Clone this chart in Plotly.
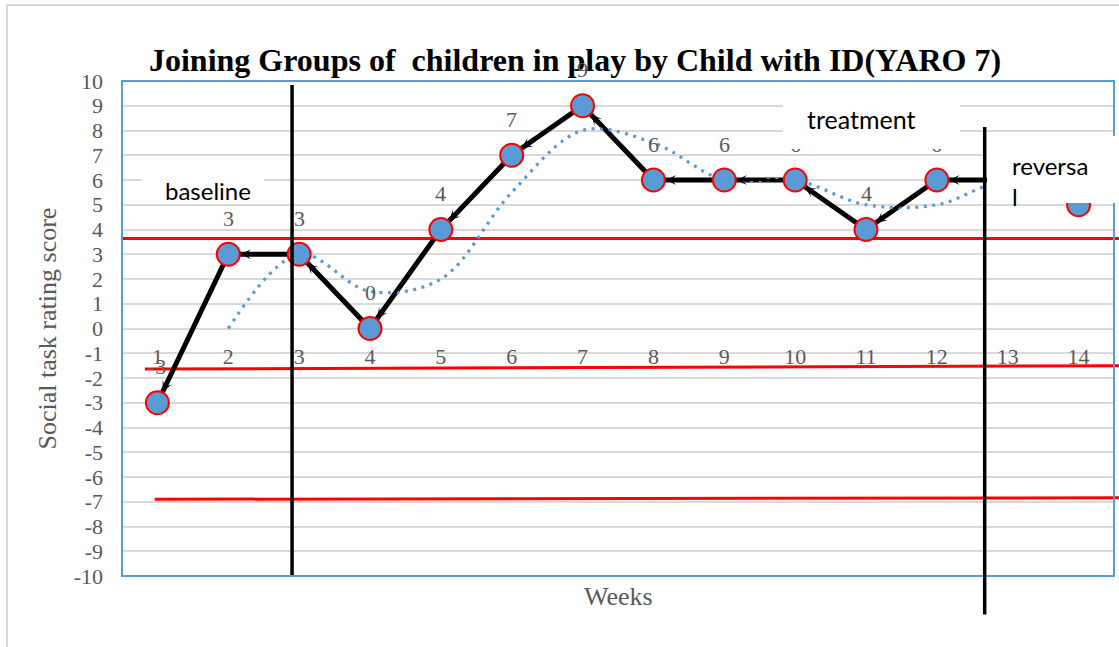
import plotly.graph_objects as go

# ---- data -------------------------------------------------------------
weeks = list(range(1, 15))
scores = [-3, 3, 3, 0, 4, 7, 9, 6, 6, 6, 4, 6, 6, 5]
# 2-week moving average (dotted trend)
moving_avg = [None, 0, 3, 1.5, 2, 5.5, 8, 7.5, 6, 6, 5, 5, 6, 5.5]
y_ticks = list(range(-10, 11))
y_tick_text = [str(v) for v in y_ticks]

# phase boundaries (in week units)
phase_bounds = [2.9, 12.675]
# criterion lines: (left score, right score)
criterion_lines = [(3.64, 3.64), (-1.64, -1.50), (-6.90, -6.84)]
criterion_starts = [0.0, 0.023, 0.033]   # paper x of each line's left end

TITLE = "Joining Groups of  children in play by Child with ID(YARO 7)"
SERIF = "Times New Roman, Liberation Serif, serif"
SANS = "Lato, Calibri, Carlito, sans-serif"
GREY = "#595959"
BLUE = "#5B9BD5"

W, H = 1119, 647
ML, MR, MT, MB = 122, 5, 81, 71

fig = go.Figure()

# black connecting line
fig.add_trace(go.Scatter(
    x=weeks, y=scores, mode="lines",
    line=dict(color="black", width=5),
    hoverinfo="skip", showlegend=False,
))

# dotted moving-average trend
fig.add_trace(go.Scatter(
    x=weeks, y=moving_avg, mode="lines",
    line=dict(color=BLUE, width=3.2, dash="3px,5.5px", shape="spline", smoothing=1),
    connectgaps=False, hoverinfo="skip", showlegend=False,
))

# markers
fig.add_trace(go.Scatter(
    x=weeks, y=scores, mode="markers",
    marker=dict(size=23, color=BLUE, line=dict(color="red", width=2)),
    cliponaxis=False, showlegend=False,
))

shapes = []
# outer chart border
shapes.append(dict(type="rect", xref="paper", yref="paper",
                   x0=-0.1159, x1=1.03, y0=-0.2, y1=1.1535,
                   line=dict(color="#D9D9D9", width=2), layer="below"))
# criterion lines
for (ya, yb), xs in zip(criterion_lines, criterion_starts):
    shapes.append(dict(type="line", xref="paper", yref="y",
                       x0=xs, x1=1.006, y0=ya, y1=yb,
                       line=dict(color="red", width=3), layer="below"))
# plot-area border
shapes.append(dict(type="rect", xref="paper", yref="paper",
                   x0=0, x1=1, y0=0, y1=1,
                   line=dict(color=BLUE, width=2), layer="above"))
# phase change lines
shapes.append(dict(type="line", xref="x", yref="paper",
                   x0=phase_bounds[0], x1=phase_bounds[0], y0=0.002, y1=0.992,
                   line=dict(color="black", width=3.5), layer="above"))
shapes.append(dict(type="line", xref="x", yref="paper",
                   x0=phase_bounds[1], x1=phase_bounds[1], y0=-0.078, y1=0.907,
                   line=dict(color="black", width=3.5), layer="above"))

annotations = []
# value labels above each point
for w, s in zip(weeks, scores):
    annotations.append(dict(
        x=w, y=s, xref="x", yref="y", text=str(s), showarrow=False,
        yshift=36, xanchor="center", yanchor="middle",
        font=dict(family=SERIF, size=22, color=GREY),
    ))

# arrowheads on each segment, pointing back to the earlier week
for i in range(1, len(weeks)):
    annotations.append(dict(
        x=weeks[i - 1], y=scores[i - 1], ax=weeks[i], ay=scores[i],
        xref="x", yref="y", axref="x", ayref="y", text="",
        showarrow=True, arrowhead=3, arrowsize=0.85, arrowwidth=2,
        arrowcolor="black", standoff=12.5, startstandoff=12.5,
    ))

# white label boxes (x, top y in data units; width, height in px)
boxes = [(0.782, 6.93, 122, 45), (9.828, 9.556, 177, 57), (12.708, 7.778, 140, 67)]
for bx, by, bw, bh in boxes:
    annotations.append(dict(
        x=bx, y=by, xref="x", yref="y", xanchor="left", yanchor="top",
        text=" ", showarrow=False, bgcolor="white", borderwidth=0, borderpad=0,
        width=bw, height=bh,
    ))

# phase labels
phase_labels = [("baseline", 1.079, 5.596, 24), ("treatment", 10.139, 8.48, 25),
                ("reversa<br>l", 13.03, 5.96, 24)]
for txt, tx, ty, fs in phase_labels:
    annotations.append(dict(
        x=tx, y=ty, xref="x", yref="y", xanchor="left", yanchor="middle",
        text=txt, showarrow=False, align="left",
        font=dict(family=SANS, size=fs, color="black"),
    ))

# axis titles
annotations.append(dict(
    x=-0.0746, y=0.5, xref="paper", yref="paper", text="Social task rating score",
    textangle=-90, showarrow=False, xanchor="center", yanchor="middle",
    font=dict(family=SERIF, size=26, color=GREY),
))
annotations.append(dict(
    x=0.5, y=-0.0424, xref="paper", yref="paper", text="Weeks",
    showarrow=False, xanchor="center", yanchor="middle",
    font=dict(family=SERIF, size=26, color=GREY),
))

fig.update_layout(
    width=W, height=H,
    margin=dict(l=ML, r=MR, t=MT, b=MB, autoexpand=False),
    paper_bgcolor="white", plot_bgcolor="white",
    title=dict(text=TITLE, x=575 / W, xanchor="center", xref="container",
               y=1 - 60 / H, yanchor="middle", yref="container",
               font=dict(family=SERIF, size=32, color="black", weight="bold")),
    xaxis=dict(range=[0.5, 14.5], tickvals=weeks, ticktext=[str(w) for w in weeks],
               anchor="free", position=0.5, showgrid=False, zeroline=False,
               showline=False, ticks="", ticklabelstandoff=12,
               tickfont=dict(family=SERIF, size=22, color=GREY)),
    yaxis=dict(range=[-10, 10], tickvals=y_ticks, ticktext=y_tick_text,
               showgrid=True, gridcolor="#D9D9D9", gridwidth=2, zeroline=False,
               showline=False, ticks="", ticklabelstandoff=18,
               tickfont=dict(family=SERIF, size=22, color=GREY)),
    shapes=shapes,
    annotations=annotations,
)

fig.write_html("out.html")
